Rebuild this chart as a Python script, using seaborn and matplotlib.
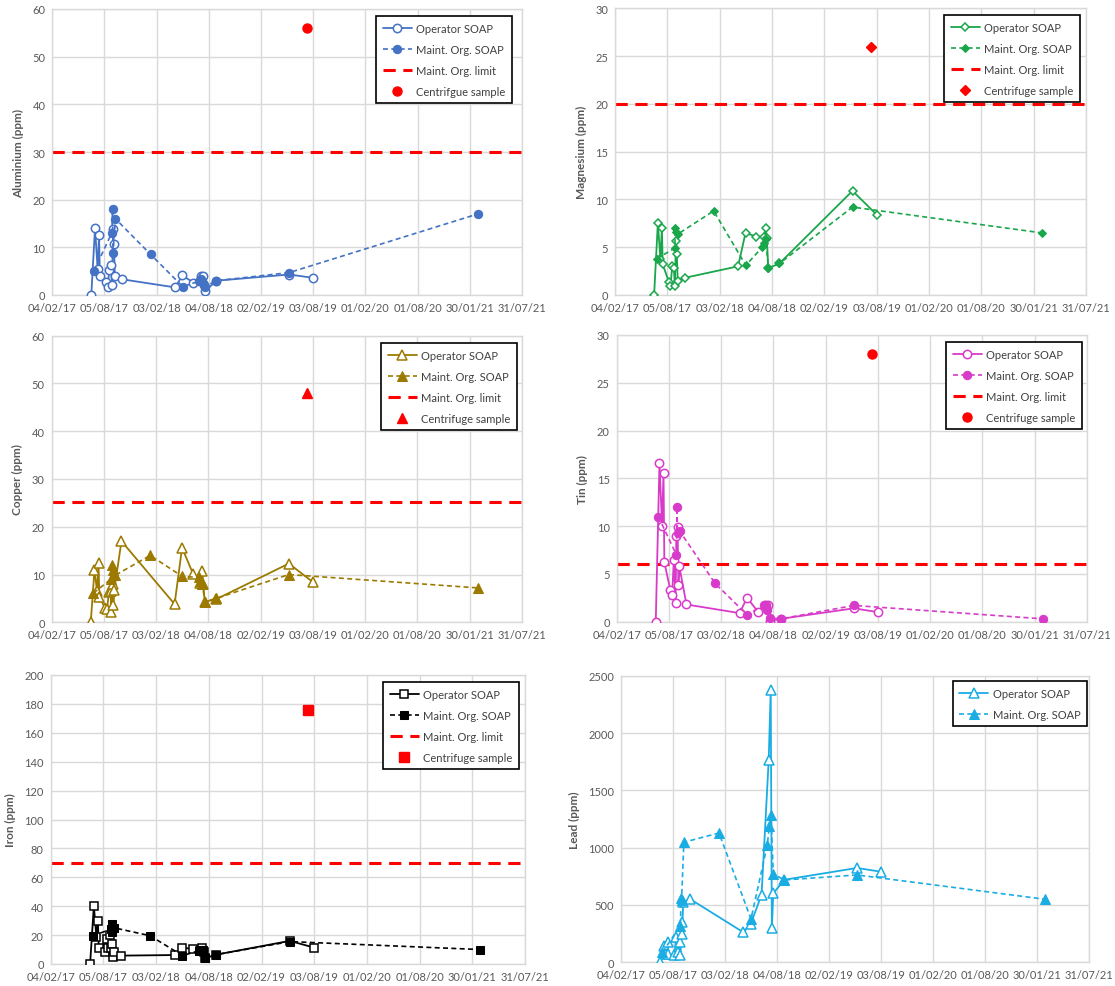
import pandas as pd
import numpy as np
import seaborn as sns
import matplotlib.pyplot as plt
import matplotlib.dates as mdates

sns.set_style("white")
plt.rcParams['font.family'] = ['Lato', 'DejaVu Sans']

# ---------------- data ----------------
op_dates = ['2017-06-20', '2017-07-03', '2017-07-12', '2017-07-17', '2017-07-20',
            '2017-08-10', '2017-08-16', '2017-08-22', '2017-08-28', '2017-08-31',
            '2017-09-04', '2017-09-07', '2017-09-10', '2017-10-05', '2018-04-08',
            '2018-05-04', '2018-06-11', '2018-07-06', '2018-07-13', '2018-07-17',
            '2018-07-22', '2018-08-30', '2019-05-11', '2019-08-03']
mo_dates = ['2017-06-29', '2017-08-31', '2017-09-02', '2017-09-04', '2017-09-12',
            '2018-01-13', '2018-05-05', '2018-07-01', '2018-07-08', '2018-07-14',
            '2018-07-22', '2018-08-30', '2019-05-11', '2021-02-27']
centrifuge_date = '2019-07-13'

al_op = [0, 14.1, 5.5, 12.5, 4.0, 2.7, 1.75, 5.3, 6.2, 2.2, 13.8, 10.8, 3.9, 3.3,
         1.6, 4.1, 2.6, 3.9, 3.9, 2.0, 0.8, 3.0, 4.3, 3.6]
al_mo = [5.0, 13.1, 18.0, 8.8, 16.0, 8.5, 1.75, 2.9, 3.4, 2.6, 1.75, 3.0, 4.7, 17.0]
mg_op = [0, 7.5, 3.8, 7.0, 3.2, 1.4, 0.9, 3.0, 2.8, 0.9, 5.7, 4.3, 1.5, 1.8,
         3.0, 6.5, 6.1, 6.1, 7.0, 6.0, 2.8, 3.3, 10.9, 8.4]
mg_mo = [3.8, 4.9, 7.0, 6.6, 6.4, 8.8, 3.1, 5.0, 5.4, 5.9, 2.8, 3.3, 9.2, 6.5]
cu_op = [0, 11.0, 6.5, 12.4, 5.3, 2.9, 2.7, 6.3, 6.5, 2.2, 8.0, 3.6, 6.8, 17.0,
         3.8, 15.6, 10.2, 8.2, 10.8, 8.0, 4.3, 4.8, 12.3, 8.4]
cu_mo = [6.1, 9.1, 12.1, 11.0, 9.8, 14.0, 9.6, 9.4, 8.6, 8.0, 4.3, 5.0, 10.0, 7.2]
sn_op = [0, 16.6, 10.0, 15.6, 6.2, 3.3, 2.8, 6.5, 2.0, 9.0, 9.9, 3.8, 5.8, 1.8,
         0.9, 2.5, 1.05, 1.7, 1.5, 1.7, 0.1, 0.3, 1.4, 1.0]
sn_mo = [11.0, 7.0, 12.0, 9.3, 9.45, 4.0, 0.7, 1.75, 1.75, 1.2, 0.4, 0.3, 1.7, 0.3]
fe_op = [0, 40, 18.5, 29.5, 11.3, 8, 17.3, 11.0, 20, 11.3, 13.8, 5, 8, 5.8,
         6.2, 11.3, 10.4, 9.0, 11.0, 8.5, 4.0, 6.5, 16.0, 11.3]
fe_mo = [19.6, 24, 28, 22, 25, 19.6, 5.8, 9.2, 10, 10, 4, 6.5, 15.5, 10]
pb_op = [0, 145, 73, 180, 70, 64, 218, 87, 175, 60, 250, 350, 530, 550,
         262, 334, 590, 1765, 2375, 297, 602, 720, 823, 790]
pb_mo = [87, 320, 558, 547, 1047, 1128, 378, 1023, 1186, 1285, 770, 718, 762, 550]

limits = {'Al': 30, 'Mg': 20, 'Cu': 25.2, 'Sn': 6, 'Fe': 70}
centrifuge = {'Al': 56, 'Mg': 26, 'Cu': 48, 'Sn': 28, 'Fe': 176}

tick_dates = ['2017-02-04', '2017-08-05', '2018-02-03', '2018-08-04', '2019-02-02',
              '2019-08-03', '2020-02-01', '2020-08-01', '2021-01-30', '2021-07-31']

# ---------------- layout ----------------
W, H = 1115, 987
fig = plt.figure(figsize=(W / 100, H / 100), dpi=100)


def rect(l, t, r, b):
    return [l / W, 1 - b / H, (r - l) / W, (b - t) / H]


panels = [
    dict(key='Al', op=al_op, mo=al_mo, color='#4472C4', marker='o', ms=6,
         ylabel='Aluminium (ppm)', ylim=60, ystep=10, box=(52.3, 10, 522, 296),
         leg=(512, 17), cname='Centrifgue sample'),
    dict(key='Mg', op=mg_op, mo=mg_mo, color='#1AA64A', marker='D', ms=4.5,
         ylabel='Magnesium (ppm)', ylim=30, ystep=5, box=(615, 9.3, 1086, 296),
         leg=(1080, 16), cname='Centrifuge sample'),
    dict(key='Cu', op=cu_op, mo=cu_mo, color='#9C7A00', marker='^', ms=6.5,
         ylabel='Copper (ppm)', ylim=60, ystep=10, box=(51.7, 336.7, 522, 623.3),
         leg=(517, 344), cname='Centrifuge sample'),
    dict(key='Sn', op=sn_op, mo=sn_mo, color='#D83BC9', marker='o', ms=6,
         ylabel='Tin (ppm)', ylim=30, ystep=5, box=(616.7, 336, 1087, 622.7),
         leg=(1082, 343), cname='Centrifuge sample'),
    dict(key='Fe', op=fe_op, mo=fe_mo, color='#000000', marker='s', ms=6,
         ylabel='Iron (ppm)', ylim=200, ystep=20, box=(50.7, 676, 525, 965),
         leg=(519, 683), cname='Centrifuge sample'),
    dict(key='Pb', op=pb_op, mo=pb_mo, color='#1AADE4', marker='^', ms=6.5,
         ylabel='Lead (ppm)', ylim=2500, ystep=500, box=(621, 676.7, 1089, 963.3),
         leg=(1087, 682), cname=None),
]

grid_c = '#D9D9D9'
text_c = '#595959'
xt = pd.to_datetime(tick_dates)

for p in panels:
    ax = fig.add_axes(rect(*p['box']))
    op_df = pd.DataFrame({'date': pd.to_datetime(op_dates), 'val': p['op']})
    mo_df = pd.DataFrame({'date': pd.to_datetime(mo_dates), 'val': p['mo']})
    c = p['color']

    sns.lineplot(data=op_df, x='date', y='val', ax=ax, color=c, lw=1.3,
                 marker=p['marker'], markersize=p['ms'], markerfacecolor='white',
                 markeredgecolor=c, markeredgewidth=1.1, estimator=None,
                 label='Operator SOAP', zorder=3)
    sns.lineplot(data=mo_df, x='date', y='val', ax=ax, color=c, lw=1.2,
                 linestyle=(0, (3, 2)), marker=p['marker'], markersize=p['ms'],
                 markerfacecolor=c, markeredgecolor=c, estimator=None,
                 label='Maint. Org. SOAP', zorder=4)
    if p['key'] in limits:
        ax.axhline(limits[p['key']], color='#FF0000', lw=2.2,
                   linestyle=(0, (4, 2.5)), label='Maint. Org. limit', zorder=2)
        cdf = pd.DataFrame({'date': pd.to_datetime([centrifuge_date]),
                            'val': [centrifuge[p['key']]]})
        ax.plot(cdf['date'], cdf['val'], linestyle='none', marker=p['marker'],
                markersize=p['ms'] + 0.5, color='#FF0000', label=p['cname'], zorder=5)

    ax.set_xlim(xt[0], xt[-1])
    ax.set_ylim(0, p['ylim'])
    ax.set_xticks(xt)
    ax.xaxis.set_major_formatter(mdates.DateFormatter('%d/%m/%y'))
    ax.set_yticks(np.arange(0, p['ylim'] + 1, p['ystep']))
    ax.grid(True, color=grid_c, lw=1.0, zorder=0)
    ax.set_axisbelow(True)
    for s in ax.spines.values():
        s.set_color(grid_c)
        s.set_linewidth(1.0)
    ax.tick_params(axis='both', length=0, labelsize=8, colors=text_c, pad=5)
    ax.set_xlabel('')
    ax.set_ylabel(p['ylabel'], fontsize=8.5, fontweight='bold', color=text_c, labelpad=6)

    lx, ly = p['leg']
    x0, y0, x1, y1 = p['box']
    bx = (lx - x0) / (x1 - x0)
    by = 1 - (ly - y0) / (y1 - y0)
    leg = ax.legend(loc='upper right', bbox_to_anchor=(bx, by), borderaxespad=0,
                    fontsize=8, frameon=True, fancybox=False, framealpha=1,
                    edgecolor='black', handlelength=2.6, handletextpad=0.4,
                    labelspacing=0.9, borderpad=0.6)
    leg.get_frame().set_linewidth(1.2)
    for t in leg.get_texts():
        t.set_color('#404040')

fig.savefig('out.png', dpi=100)
